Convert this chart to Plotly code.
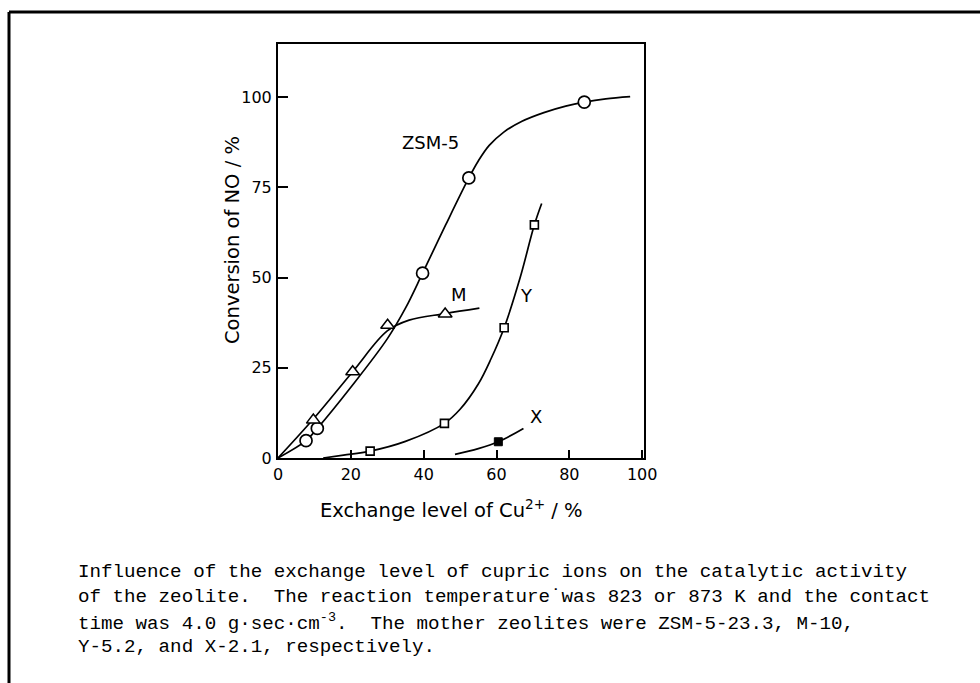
import plotly.graph_objects as go

# ---- data (x: exchange level of Cu2+ /%, y: conversion of NO /%)
zsm5_x = [7.7, 10.8, 39.7, 52.4, 84.1]
zsm5_y = [4.8, 8.2, 51.2, 77.6, 98.6]
m_x = [9.7, 20.5, 30.1, 45.9]
m_y = [10.5, 23.9, 36.8, 39.9]
y_x = [25.3, 45.7, 62.1, 70.4]
y_y = [1.9, 9.6, 36.1, 64.6]
x_x = [60.5]
x_y = [4.5]

# smooth curves drawn through the points
zsm5_curve_x = [0, 7.7, 10.8, 20, 30, 35, 39.7, 46, 52.4, 55, 58, 62, 67, 73, 79, 84.1, 90, 96.7]
zsm5_curve_y = [0, 4.8, 8.2, 19.6, 33.0, 41.5, 51.2, 64.5, 77.6, 82.3, 86.6, 90.3, 93.3, 95.7, 97.5, 98.6, 99.5, 100.1]
m_curve_x = [0, 9.7, 20.5, 30, 36, 45.9, 55.3]
m_curve_y = [0, 10.8, 23.9, 35.2, 38.2, 40.0, 41.5]
y_curve_x = [12.4, 18, 25.3, 35, 45.7, 50, 55, 58.5, 62.1, 66.5, 70.4, 72.4]
y_curve_y = [0, 0.8, 1.9, 4.6, 9.6, 13.5, 20.5, 27.5, 36.1, 50, 64.6, 70.5]
x_curve_x = [48.6, 55, 60.5, 67.4]
x_curve_y = [1.0, 2.6, 4.5, 8.2]

x_ticks = [0, 20, 40, 60, 80, 100]
y_ticks = [0, 25, 50, 75, 100]

series_labels = ["ZSM-5", "M", "Y", "X"]
label_x = [41.8, 49.8, 68.3, 70.9]
label_y = [87.4, 45.2, 44.9, 11.6]

caption_lines = [
    "Influence of the exchange level of cupric ions on the catalytic activity",
    "of the zeolite.  The reaction temperature\u02d9was 823 or 873 K and the contact",
    "time was 4.0 g\u00b7sec\u00b7cm<sup>-3</sup>.  The mother zeolites were ZSM-5-23.3, M-10,",
    "Y-5.2, and X-2.1, respectively.",
]

# ---- layout geometry (pixels)
W, H = 980, 683
L, R, T, B = 278, 644, 44, 458


def px(xp):
    return (xp - L) / (R - L)


def py(yp):
    return (B - yp) / (B - T)


FONT = "DejaVu Sans"

fig = go.Figure()
for cx, cy in [(zsm5_curve_x, zsm5_curve_y), (m_curve_x, m_curve_y),
               (y_curve_x, y_curve_y), (x_curve_x, x_curve_y)]:
    fig.add_trace(go.Scatter(x=cx, y=cy, mode="lines",
                             line=dict(color="black", width=1.7, shape="spline", smoothing=1.0),
                             hoverinfo="skip"))

fig.add_trace(go.Scatter(x=zsm5_x, y=zsm5_y, mode="markers", name="ZSM-5",
                         marker=dict(symbol="circle", size=12, color="white",
                                     line=dict(color="black", width=1.7))))
fig.add_trace(go.Scatter(x=m_x, y=m_y, mode="markers", name="M",
                         marker=dict(symbol="triangle-up", size=12, color="white",
                                     line=dict(color="black", width=1.5))))
fig.add_trace(go.Scatter(x=y_x, y=y_y, mode="markers", name="Y",
                         marker=dict(symbol="square", size=8, color="white",
                                     line=dict(color="black", width=1.6))))
fig.add_trace(go.Scatter(x=x_x, y=x_y, mode="markers", name="X",
                         marker=dict(symbol="square", size=8, color="black",
                                     line=dict(color="black", width=1))))

for t, lx, ly in zip(series_labels, label_x, label_y):
    fig.add_annotation(x=lx, y=ly, text=t, showarrow=False,
                       font=dict(family=FONT, size=18, color="black"))

# axis titles
fig.add_annotation(xref="paper", yref="paper", x=px(451), y=py(509),
                   text="Exchange level of Cu<sup>2+</sup> / %", showarrow=False,
                   font=dict(family=FONT, size=19.5, color="black"),
                   xanchor="center", yanchor="middle")
fig.add_annotation(xref="paper", yref="paper", x=px(232), y=py(240),
                   text="Conversion of NO / %", showarrow=False, textangle=-90,
                   font=dict(family=FONT, size=19.5, color="black"),
                   xanchor="center", yanchor="middle")

# caption
cap_y = [572, 597, 622, 647]
for line, yy in zip(caption_lines, cap_y):
    fig.add_annotation(xref="paper", yref="paper", x=px(76), y=py(yy),
                       text=line, showarrow=False, xanchor="left", yanchor="middle",
                       font=dict(family="Liberation Mono", size=19.2, color="black"))

# outer frame (left and top edges)
fig.add_shape(type="line", xref="paper", yref="paper",
              x0=px(9), x1=px(9), y0=py(12), y1=py(683), line=dict(color="black", width=3))
fig.add_shape(type="line", xref="paper", yref="paper",
              x0=px(9), x1=px(980), y0=py(12), y1=py(12), line=dict(color="black", width=3))

axis_common = dict(showgrid=False, zeroline=False, showline=True, mirror=True,
                   linecolor="black", linewidth=2, ticks="inside", tickcolor="black",
                   tickwidth=1.7, tickfont=dict(family=FONT, size=16, color="black"))

fig.update_xaxes(range=[0, 100.5], tickvals=x_ticks, ticklen=8,
                 ticklabelstandoff=1, **axis_common)
fig.update_yaxes(range=[0, 114.7], tickvals=y_ticks, ticklen=10,
                 ticklabelstandoff=1, **axis_common)

fig.update_layout(width=W, height=H, showlegend=False,
                  margin=dict(l=L, r=W - R, t=T, b=H - B, autoexpand=False),
                  plot_bgcolor="white", paper_bgcolor="white")

fig.write_html("out.html")
